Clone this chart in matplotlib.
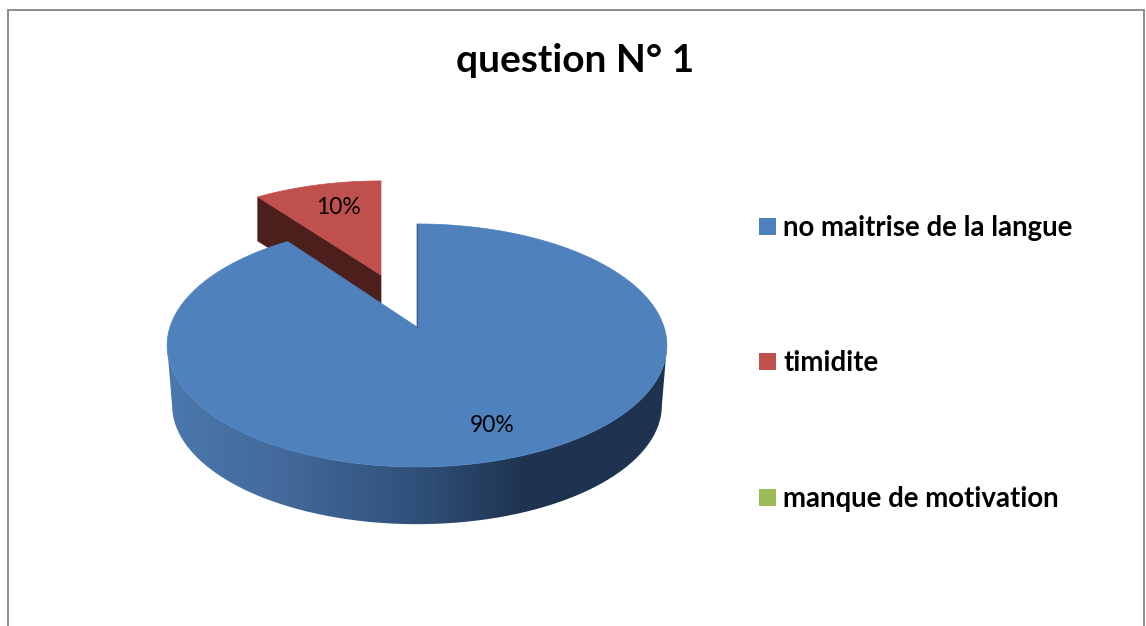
import numpy as np
import matplotlib
matplotlib.use("Agg")
import matplotlib.pyplot as plt
from matplotlib.patches import Polygon, Rectangle, PathPatch
from matplotlib.path import Path
from matplotlib.colors import LinearSegmentedColormap

title = "question N° 1"
categories = ["no maitrise de la langue", "timidite", "manque de motivation"]
values = [90, 10, 0]
labels = ["90%", "10%", ""]
colors = ["#4f81bd", "#c0504d", "#9bbb59"]

W, H = 1146, 626
fig = plt.figure(figsize=(W / 100, H / 100), dpi=100)
ax = fig.add_axes([0, 0, 1, 1])
ax.set_xlim(0, W)
ax.set_ylim(H, 0)
ax.axis("off")

FONT = "Lato"
K, A, B = 0.152, 118.7, 247.0


def project(deg, cx, cy, sx=1.0, sy=1.0, dy=0.0):
    """deg is measured clockwise from 12 o'clock on the pie's disc."""
    t = np.radians(np.asarray(deg, dtype=float))
    u, v = np.sin(t), np.cos(t)
    d = 1 + K * v
    return cx + sx * B * u / d, cy - sy * A * v / d + dy


edges = np.cumsum([0] + values) * 3.6
main_a = np.linspace(edges[0], edges[1], 400)
red_a = np.linspace(edges[1], edges[2], 60)

# detached slice (behind the main slice)
rcx, rcy, rsx, rsy, rdep = 381, 275, 0.953, 0.913, 44
x1, y1 = project(edges[1], rcx, rcy, sx=rsx, sy=rsy)
ax.add_patch(Polygon([(x1, y1), (x1, y1 + rdep), (rcx, rcy + rdep), (rcx, rcy)],
                     closed=True, fc="#4c1f1d", ec="#4c1f1d", lw=0.5, zorder=1))
rx, ry = project(red_a, rcx, rcy, sx=rsx, sy=rsy)
ax.add_patch(Polygon(np.r_[np.c_[rx, ry], [[rcx, rcy]]], closed=True,
                     fc=colors[1], ec=colors[1], lw=0.5, zorder=2))

# main slice: gradient rim, then the top face
mcx, mcy = 417, 327
sides = np.linspace(-81.3, 81.3, 300) + 180
tx, ty = project(sides, mcx, mcy)
bx, by = project(sides, mcx, mcy, sx=0.98, sy=0.98, dy=60)
rim = np.r_[np.c_[tx, ty], np.c_[bx, by][::-1]]
cmap = LinearSegmentedColormap.from_list(
    "rim", [(0, "#4a78ad"), (0.24, "#43699a"), (0.5, "#30507a"),
            (0.72, "#1e334f"), (1, "#1e334f")])
im = ax.imshow(np.linspace(0, 1, 256)[None, :], extent=(167, 667, 530, 330),
               cmap=cmap, aspect="auto", zorder=3)
im.set_clip_path(PathPatch(Path(np.r_[rim, rim[:1]]), transform=ax.transData))
ax.set_xlim(0, W)
ax.set_ylim(H, 0)

mx, my = project(main_a, mcx, mcy)
ax.add_patch(Polygon(np.r_[np.c_[mx, my], [[mcx, mcy]]], closed=True,
                     fc=colors[0], ec=colors[0], lw=0.5, zorder=4))
ax.plot([mcx, mcx], [my[0], mcy], color="#2f4f75", lw=0.8, alpha=0.7, zorder=5)

# value labels
ax.text(492, 425, labels[0], ha="center", va="center", fontsize=16.5, family=FONT, color="black", zorder=6)
ax.text(338, 207, labels[1], ha="center", va="center", fontsize=16.5, family=FONT, color="black", zorder=6)

# title
ax.text(575.5, 60, title, ha="center", va="center", fontsize=28, fontweight="bold", family=FONT, color="black")

# legend
for name, col, y in zip(categories, colors, [226.5, 361.5, 497.5]):
    ax.add_patch(Rectangle((759, y - 8.5), 17, 17, fc=col, ec="none"))
    ax.text(783, y + 1.5, name, ha="left", va="center", fontsize=19.9, fontweight="bold", family=FONT, color="black")

# frame, open at the bottom
ax.plot([7.5, 7.5, 1143.5, 1143.5], [H, 9.5, 9.5, H], color="#8c8c8c", lw=1.4, solid_joinstyle="miter")

fig.savefig("out.png", dpi=100, facecolor="white")
